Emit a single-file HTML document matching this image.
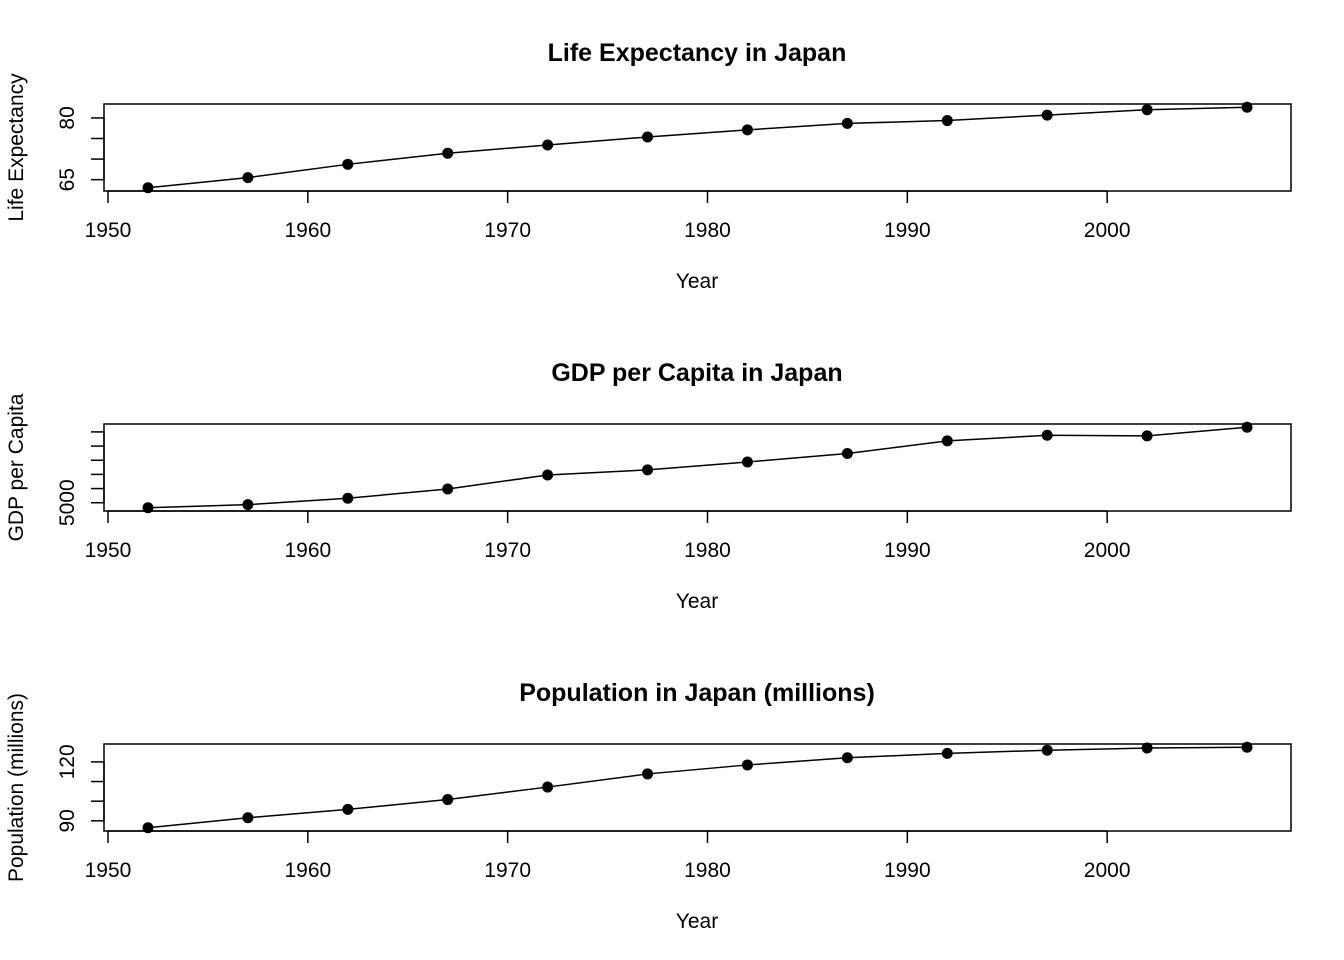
<!DOCTYPE html>
<html><head><meta charset="utf-8"><style>
html,body{margin:0;background:#fff}
svg{display:block;font-family:"Liberation Sans",sans-serif}
</style></head><body>
<svg id="chart" width="1344" height="960" viewBox="0 0 1344 960"></svg>
<script>
const years = [1952,1957,1962,1967,1972,1977,1982,1987,1992,1997,2002,2007];
const lifeExp = [63.03,65.5,68.73,71.43,73.42,75.38,77.11,78.67,79.36,80.69,82.0,82.6];
const gdpPerCap = [3217,4318,6577,9848,14779,16610,19384,22376,26825,28817,28605,31656];
const popMillions = [86.46,91.56,95.83,100.83,107.19,113.87,118.45,122.09,124.33,125.96,127.07,127.47];
const xTicks = [1950,1960,1970,1980,1990,2000];
const lifeTicks = [65,70,75,80];
const lifeLabels = ["65","","","80"];
const gdpTicks = [5000,10000,15000,20000,25000,30000];
const gdpLabels = ["5000","","","","",""];
const popTicks = [90,100,110,120];
const popLabels = ["90","","","120"];

const NS="http://www.w3.org/2000/svg";
const svg=document.getElementById('chart');
function mk(tag,attrs,parent){const e=document.createElementNS(NS,tag);for(const k in attrs)e.setAttribute(k,attrs[k]);(parent||svg).appendChild(e);return e;}
const L=104,R=1291;
function pad(arr){const mn=Math.min(...arr),mx=Math.max(...arr),p=(mx-mn)*0.04;return [mn-p,mx+p];}
const [x0,x1]=pad(years);
const xs=v=>L+(v-x0)/(x1-x0)*(R-L);

function panel(key,top,vals,ticks,labels,title,ylab){
  const bot=top+87;
  const [y0,y1]=pad(vals);
  const ys=v=>bot-(v-y0)/(y1-y0)*(bot-top);
  const g=mk('g',{});
  
  
  const t=mk('text',{x:697,y:top-43,'text-anchor':'middle','font-size':'25','font-weight':'bold'},g);
  t.textContent=title;
  
  
  const b=mk('rect',{x:L,y:top,width:R-L,height:bot-top,fill:'none',stroke:'#000','stroke-width':1.5},g);
  
  
  mk('line',{x1:xs(xTicks[0]),x2:xs(xTicks[xTicks.length-1]),y1:bot,y2:bot,stroke:'#000','stroke-width':1.5},g);
  xTicks.forEach(v=>{
    mk('line',{x1:xs(v),x2:xs(v),y1:bot,y2:bot+12,stroke:'#000','stroke-width':1.5},g);
    const tl=mk('text',{x:xs(v),y:bot+46,'text-anchor':'middle','font-size':'21'},g);
    tl.textContent=v;
    
    
  });
  const xl=mk('text',{x:697,y:bot+97,'text-anchor':'middle','font-size':'21'},g);
  xl.textContent='Year';
  
  
  mk('line',{x1:L,x2:L,y1:ys(ticks[0]),y2:ys(ticks[ticks.length-1]),stroke:'#000','stroke-width':1.5},g);
  ticks.forEach((v,i)=>{
    mk('line',{x1:L-13,x2:L,y1:ys(v),y2:ys(v),stroke:'#000','stroke-width':1.5},g);
    if(labels[i]){
      const yt=mk('text',{x:0,y:0,'text-anchor':'middle','font-size':'21',transform:`translate(74,${ys(v)}) rotate(-90)`},g);
      yt.textContent=labels[i];
      
      
    }
  });
  const yl=mk('text',{x:0,y:0,'text-anchor':'middle','font-size':'21',transform:`translate(23,${(top+bot)/2}) rotate(-90)`},g);
  yl.textContent=ylab;
  
  
  const pts=years.map((y,i)=>xs(y)+','+ys(vals[i])).join(' ');
  const pl=mk('polyline',{points:pts,fill:'none',stroke:'#000','stroke-width':1.5},g);
  
  
  years.forEach((y,i)=>{
    const c=mk('circle',{cx:xs(y),cy:ys(vals[i]),r:5.5,fill:'#000'},g);
    
    
  });
}
panel('life-expectancy',104,lifeExp,lifeTicks,lifeLabels,'Life Expectancy in Japan','Life Expectancy');
panel('gdp',424,gdpPerCap,gdpTicks,gdpLabels,'GDP per Capita in Japan','GDP per Capita');
panel('population',744,popMillions,popTicks,popLabels,'Population in Japan (millions)','Population (millions)');
</script>
</body></html>
